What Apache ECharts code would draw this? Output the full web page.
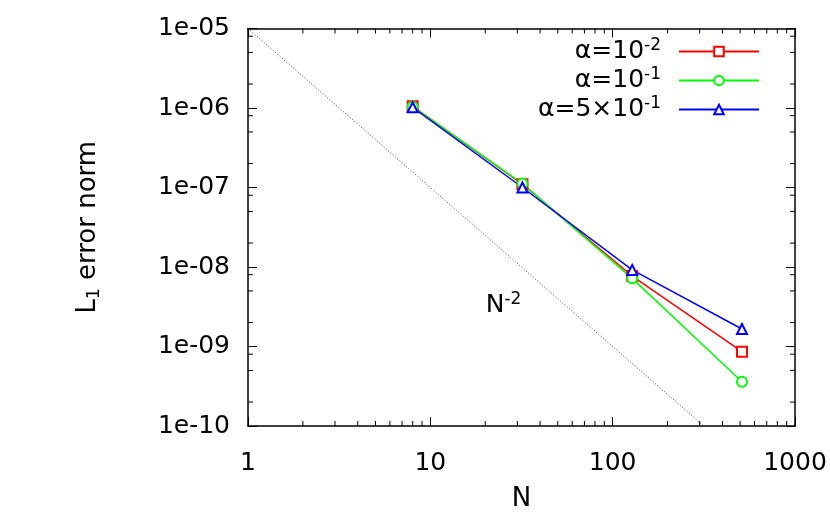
<!DOCTYPE html>
<html>
<head>
<meta charset="utf-8">
<script src="https://cdn.jsdelivr.net/npm/echarts@6/dist/echarts.min.js"></script>
<style>
  html, body { margin: 0; padding: 0; background: #fff; }
  #chart { width: 830px; height: 515px; }
</style>
</head>
<body>
<div id="chart"></div>
<script>
// grid sizes N and error norms
var gridN = [8, 32, 128, 512];
var errA1 = [1.05e-6, 1.10e-7, 7.7e-9, 8.6e-10];   // alpha = 1e-2
var errA2 = [1.04e-6, 1.12e-7, 7.2e-9, 3.6e-10];   // alpha = 1e-1
var errA3 = [1.02e-6, 1.00e-7, 9.2e-9, 1.66e-9];   // alpha = 5e-1
var seriesNames = ['α=10^-2', 'α=10^-1', 'α=5×10^-1'];

// N^-2 guide line and its label
var refN = [1, 1000];
var refErr = [1e-5, 1e-11];
var refLabelAt = [20, 3.3e-9];

var xTickValues = [1, 10, 100, 1000];
var xTickLabels = ['1', '10', '100', '1000'];
var yTickValues = [1e-10, 1e-9, 1e-8, 1e-7, 1e-6, 1e-5];
var yTickLabels = ['1e-10', '1e-09', '1e-08', '1e-07', '1e-06', '1e-05'];
var xMinor = [2, 3, 4, 5, 6, 7, 8, 9, 20, 30, 40, 50, 60, 70, 80, 90, 200, 300, 400, 500, 600, 700, 800, 900];
var yMinor = [2e-10, 5e-10, 8e-10, 2e-9, 5e-9, 8e-9, 2e-8, 5e-8, 8e-8, 2e-7, 5e-7, 8e-7, 2e-6, 5e-6, 8e-6];

var FONT = 'DejaVu Sans';
var xMin = xTickValues[0], xMax = xTickValues[xTickValues.length - 1];
var yMin = yTickValues[0], yMax = yTickValues[yTickValues.length - 1];

function pick(values, labels, v) {
  var e = Math.round(Math.log10(v));
  for (var i = 0; i < values.length; i++) {
    if (Math.round(Math.log10(values[i])) === e) return labels[i];
  }
  return '';
}

function supText(name) {
  var p = name.split('^');
  return '{a|' + p[0] + '}{s|' + p[1] + '}';
}

var richSup = {
  a: { fontFamily: FONT, fontSize: 25, color: '#000', lineHeight: 29 },
  s: { fontFamily: FONT, fontSize: 17, color: '#000', lineHeight: 17, verticalAlign: 'top' }
};

function xMinorItem(params, api) {
  var b = api.coord([api.value(0), yMin]);
  var t = api.coord([api.value(0), yMax]);
  var st = { stroke: '#000', lineWidth: 1 };
  return { type: 'group', children: [
    { type: 'line', shape: { x1: b[0], y1: b[1], x2: b[0], y2: b[1] - 5 }, style: st },
    { type: 'line', shape: { x1: t[0], y1: t[1], x2: t[0], y2: t[1] + 5 }, style: st }
  ] };
}

function yMinorItem(params, api) {
  var l = api.coord([xMin, api.value(1)]);
  var r = api.coord([xMax, api.value(1)]);
  var st = { stroke: '#000', lineWidth: 1 };
  return { type: 'group', children: [
    { type: 'line', shape: { x1: l[0], y1: l[1], x2: l[0] + 5, y2: l[1] }, style: st },
    { type: 'line', shape: { x1: r[0], y1: r[1], x2: r[0] - 5, y2: r[1] }, style: st }
  ] };
}

function axisBase(extra) {
  var a = {
    type: 'log', logBase: 10,
    axisLine: { show: true, onZero: false, lineStyle: { color: '#000', width: 1.5 } },
    axisTick: { show: true, inside: true, length: 9, lineStyle: { color: '#000', width: 1 } },
    splitLine: { show: false },
    minorTick: { show: false }
  };
  for (var k in extra) a[k] = extra[k];
  return a;
}

function makeLine(name, data, color, symbol) {
  return {
    name: name, type: 'line',
    data: gridN.map(function (n, i) { return [n, data[i]]; }),
    symbol: symbol, symbolSize: 10,
    lineStyle: { color: color, width: 1.5 },
    itemStyle: { color: color, borderColor: color, borderWidth: 1.5 },
    z: 5
  };
}

var chart = echarts.init(document.getElementById('chart'));
chart.setOption({
  animation: false,
  backgroundColor: '#fff',
  grid: { left: 248, right: 35, top: 28.5, bottom: 89, containLabel: false, outerBoundsMode: 'none' },
  legend: {
    data: seriesNames,
    orient: 'vertical',
    align: 'right',
    right: 70, top: 37,
    padding: 0,
    itemGap: 0,
    itemWidth: 80, itemHeight: 12,
    formatter: supText,
    textStyle: { fontFamily: FONT, fontSize: 25, color: '#000', lineHeight: 29, padding: [0, 13, 0, 0], rich: richSup }
  },
  xAxis: [
    axisBase({
      min: xMin, max: xMax, position: 'bottom',
      name: 'N', nameLocation: 'middle', nameGap: 60,
      nameTextStyle: { fontFamily: FONT, fontSize: 26, color: '#000' },
      axisLabel: {
        margin: 25, fontFamily: FONT, fontSize: 25, color: '#000',
        formatter: function (v) { return pick(xTickValues, xTickLabels, v); }
      }
    }),
    axisBase({ min: xMin, max: xMax, position: 'top', axisLabel: { show: false } })
  ],
  yAxis: [
    axisBase({
      min: yMin, max: yMax, position: 'left',
      name: '{a|L}{b|1}{a| error norm}', nameLocation: 'middle', nameGap: 145, nameRotate: 90,
      nameTextStyle: {
        fontFamily: FONT, fontSize: 26, color: '#000',
        rich: {
          a: { fontFamily: FONT, fontSize: 26, color: '#000', lineHeight: 30 },
          b: { fontFamily: FONT, fontSize: 17, color: '#000', lineHeight: 17, verticalAlign: 'bottom' }
        }
      },
      axisLabel: {
        margin: 18, fontFamily: FONT, fontSize: 25, color: '#000',
        formatter: function (v) { return pick(yTickValues, yTickLabels, v); }
      }
    }),
    axisBase({ min: yMin, max: yMax, position: 'right', axisLabel: { show: false } })
  ],
  series: [
    {
      name: 'ref', type: 'line',
      data: refN.map(function (n, i) { return [n, refErr[i]]; }),
      symbol: 'none', clip: true,
      lineStyle: { color: '#444', width: 1, type: [1, 2] },
      z: 2
    },
    {
      name: 'refLabel', type: 'scatter',
      data: [refLabelAt],
      symbolSize: 1,
      itemStyle: { color: '#fff', opacity: 1 },
      label: {
        show: true, position: 'right', distance: 0, color: '#000', opacity: 1,
        formatter: '{a|N}{s|-2}', rich: richSup
      },
      z: 3
    },
    makeLine(seriesNames[0], errA1, '#ff0000', 'emptyRect'),
    makeLine(seriesNames[1], errA2, '#00ff00', 'emptyCircle'),
    makeLine(seriesNames[2], errA3, '#0000ff', 'emptyTriangle'),
    {
      type: 'custom', renderItem: xMinorItem, silent: true,
      data: xMinor.map(function (v) { return [v, yMin]; }), z: 10
    },
    {
      type: 'custom', renderItem: yMinorItem, silent: true,
      data: yMinor.map(function (v) { return [xMin, v]; }), z: 10
    }
  ]
});
</script>
</body>
</html>
